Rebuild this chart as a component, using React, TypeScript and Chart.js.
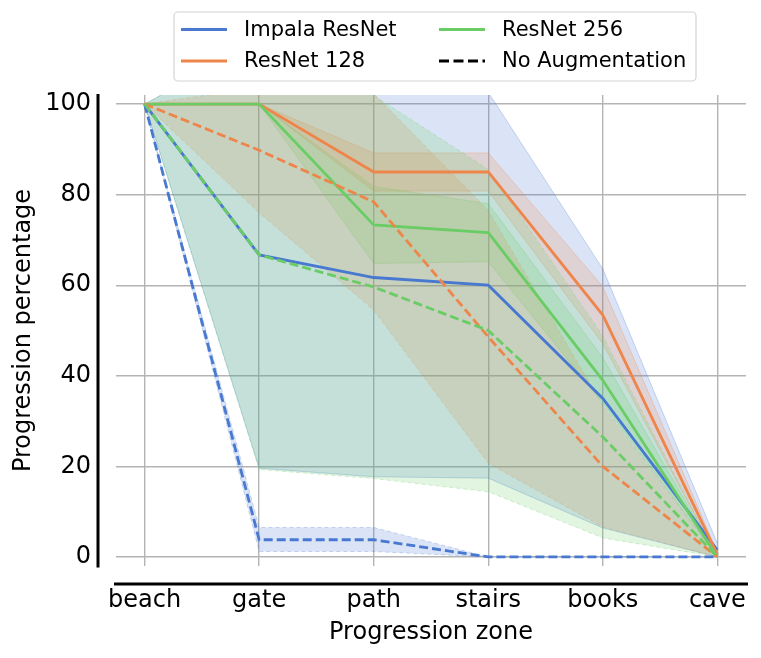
import React, { useEffect, useRef } from 'react';
import { Chart, registerables, Plugin } from 'chart.js';

Chart.register(...registerables);

const zones = ['beach', 'gate', 'path', 'stairs', 'books', 'cave'];
const yTicks = [0, 20, 40, 60, 80, 100];

// with augmentation
const impalaMean = [100, 66.7, 61.7, 60, 35, 1.5];
const impalaLow = [100, 19.6, 17.7, 17.4, 6.4, 0];
const impalaHigh = [100, 113.8, 105.7, 102.6, 63.6, 3];

const resnet128Mean = [100, 100, 85, 85, 53.4, 0.5];
const resnet128Low = [100, 100, 80.8, 80.8, 47.1, 0];
const resnet128High = [100, 100, 89.2, 89.2, 59.7, 1];

const resnet256Mean = [100, 100, 73.3, 71.6, 39, 0];
const resnet256Low = [100, 100, 64.8, 65.2, 34, 0];
const resnet256High = [100, 100, 81.8, 78, 44, 0];

// no augmentation
const impalaNoAugMean = [100, 3.8, 3.8, 0, 0, 0];
const impalaNoAugLow = [100, 1.2, 1.2, 0, 0, 0];
const impalaNoAugHigh = [100, 6.5, 6.5, 0, 0, 0];

const resnet128NoAugMean = [100, 89.8, 78.4, 48.6, 20, 0];
const resnet128NoAugLow = [100, 76, 54.5, 20.7, 6.6, 0];
const resnet128NoAugHigh = [100, 103.6, 102.3, 76.5, 33.4, 0];

const resnet256NoAugMean = [100, 66.7, 59.6, 50, 26.5, 0];
const resnet256NoAugLow = [100, 19.3, 17.3, 14.4, 4.2, 0];
const resnet256NoAugHigh = [100, 114.1, 101.9, 85.6, 48.8, 0];

const BLUE = [72, 120, 208];
const ORANGE = [238, 133, 74];
const GREEN = [106, 204, 100];

const rgba = (c: number[], a: number) => `rgba(${c[0]},${c[1]},${c[2]},${a})`;
const FONT = '"DejaVu Sans", sans-serif';

interface Series {
  color: number[];
  dashed: boolean;
  mean: number[];
  low: number[];
  high: number[];
}

const series: Series[] = [
  { color: BLUE, dashed: false, mean: impalaMean, low: impalaLow, high: impalaHigh },
  { color: ORANGE, dashed: false, mean: resnet128Mean, low: resnet128Low, high: resnet128High },
  { color: GREEN, dashed: false, mean: resnet256Mean, low: resnet256Low, high: resnet256High },
  { color: BLUE, dashed: true, mean: impalaNoAugMean, low: impalaNoAugLow, high: impalaNoAugHigh },
  { color: ORANGE, dashed: true, mean: resnet128NoAugMean, low: resnet128NoAugLow, high: resnet128NoAugHigh },
  { color: GREEN, dashed: true, mean: resnet256NoAugMean, low: resnet256NoAugLow, high: resnet256NoAugHigh },
];

const legendItems = [
  { label: 'Impala ResNet', color: rgba(BLUE, 1), dashed: false, col: 0, row: 0 },
  { label: 'ResNet 128', color: rgba(ORANGE, 1), dashed: false, col: 0, row: 1 },
  { label: 'ResNet 256', color: rgba(GREEN, 1), dashed: false, col: 1, row: 0 },
  { label: 'No Augmentation', color: '#000', dashed: true, col: 1, row: 1 },
];

const pts = (vals: number[]) => vals.map((y, x) => ({ x, y }));

// offset spines + two-column legend box, matplotlib style
const decorations: Plugin = {
  id: 'decorations',
  afterDraw(chart) {
    const { ctx, chartArea: a } = chart;
    ctx.save();
    ctx.strokeStyle = '#000';
    ctx.lineWidth = 3;
    ctx.beginPath();
    ctx.moveTo(a.left - 18, a.top - 1);
    ctx.lineTo(a.left - 18, a.bottom + 1.5);
    ctx.moveTo(a.left - 2, a.bottom + 18);
    ctx.lineTo(a.right + 2, a.bottom + 18);
    ctx.stroke();

    // legend
    ctx.fillStyle = 'rgba(255,255,255,0.85)';
    ctx.strokeStyle = '#d4d4d4';
    ctx.lineWidth = 1.2;
    ctx.beginPath();
    ctx.roundRect(174, 12, 522, 69, 4);
    ctx.fill();
    ctx.stroke();

    const colX = [181, 439];
    const rowY = [29.5, 61];
    ctx.font = `21px ${FONT}`;
    ctx.textBaseline = 'middle';
    ctx.textAlign = 'left';
    legendItems.forEach((it) => {
      const x = colX[it.col];
      const y = rowY[it.row];
      ctx.strokeStyle = it.color;
      ctx.lineWidth = 2.8;
      ctx.setLineDash(it.dashed ? [10, 4.5] : []);
      ctx.beginPath();
      ctx.moveTo(x, y);
      ctx.lineTo(x + 46, y);
      ctx.stroke();
      ctx.setLineDash([]);
      ctx.fillStyle = '#000';
      ctx.fillText(it.label, x + 63, y + 1);
    });
    ctx.restore();
  },
};

const App: React.FC = () => {
  const chartRef = useRef<HTMLCanvasElement>(null);

  useEffect(() => {
    document.body.style.margin = '0';
    if (!chartRef.current) return;
    const ctx = chartRef.current.getContext('2d');
    if (!ctx) return;

    const datasets: any[] = [];
    series.forEach((s, i) => {
      const dash = s.dashed ? [4, 3] : [];
      datasets.push({
        data: pts(s.high),
        borderColor: rgba(s.color, 0.28),
        borderWidth: 1,
        borderDash: dash,
        backgroundColor: rgba(s.color, 0.2),
        fill: '+1',
        pointRadius: 0,
        order: 30 - i,
      });
      datasets.push({
        data: pts(s.low),
        borderColor: rgba(s.color, 0.28),
        borderWidth: 1,
        borderDash: dash,
        fill: false,
        pointRadius: 0,
        order: 30 - i,
      });
    });
    series.forEach((s, i) => {
      datasets.push({
        data: pts(s.mean),
        borderColor: rgba(s.color, 1),
        borderWidth: 2.8,
        borderDash: s.dashed ? [9, 4] : [],
        fill: false,
        pointRadius: 0,
        order: 10 - i,
      });
    });

    const chart = new Chart(ctx, {
      type: 'line',
      data: { datasets },
      options: {
        animation: false,
        responsive: false,
        layout: { padding: { top: 95, right: 15, left: 0, bottom: 0 } },
        plugins: {
          legend: { display: false },
          tooltip: { enabled: false },
        },
        scales: {
          x: {
            type: 'linear',
            min: -0.25,
            max: 5.25,
            afterBuildTicks: (scale) => {
              scale.ticks = zones.map((_, i) => ({ value: i }));
            },
            afterFit: (scale: any) => {
              scale.height = 92;
              scale.paddingLeft = 0;
              scale.paddingRight = 0;
            },
            grid: { color: '#b4b4b4', lineWidth: 1.4, drawTicks: false },
            border: { display: false },
            ticks: {
              color: '#000',
              padding: 20,
              maxRotation: 0,
              autoSkip: false,
              font: { family: FONT, size: 24 },
              callback: (v) => zones[Number(v)] ?? '',
            },
            title: {
              display: true,
              text: 'Progression zone',
              color: '#000',
              font: { family: FONT, size: 24 },
              padding: { top: 0, bottom: 11 },
            },
          },
          y: {
            min: -2,
            max: 102,
            afterBuildTicks: (scale) => {
              scale.ticks = yTicks.map((v) => ({ value: v }));
            },
            afterFit: (scale: any) => {
              scale.width = 116;
              scale.paddingTop = 0;
              scale.paddingBottom = 0;
            },
            grid: { color: '#b4b4b4', lineWidth: 1.4, drawTicks: false },
            border: { display: false },
            ticks: {
              color: '#000',
              padding: 25,
              font: { family: FONT, size: 24 },
            },
            title: {
              display: true,
              text: 'Progression percentage',
              color: '#000',
              font: { family: FONT, size: 24 },
              padding: { top: 9, bottom: 0 },
            },
          },
        },
      },
      plugins: [decorations],
    });

    return () => {
      chart.destroy();
    };
  }, []);

  return (
    <div style={{ width: 761, height: 658 }}>
      <canvas ref={chartRef} width={761} height={658} />
    </div>
  );
};

export default App;
